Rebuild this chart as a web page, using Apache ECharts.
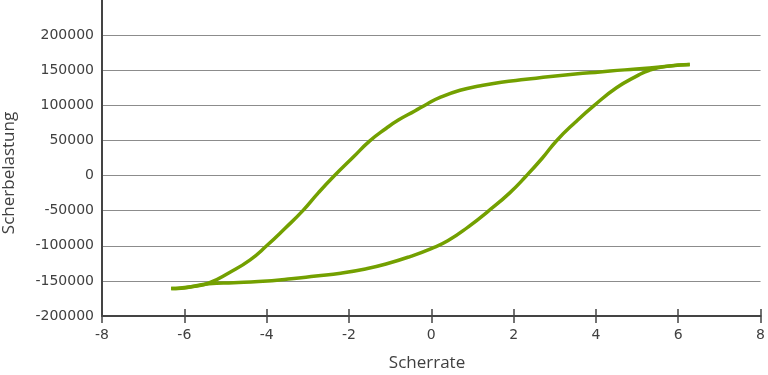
<!DOCTYPE html>
<html>
<head>
<meta charset="utf-8">
<script src="https://cdn.jsdelivr.net/npm/echarts@6/dist/echarts.min.js"></script>
<style>html,body{margin:0;padding:0;background:#fff}#c{width:768px;height:375px}</style>
</head>
<body>
<div id="c"></div>
<script>
// Lower branch (increasing shear rate)
var xLower = [-6.32, -6.0, -5.4, -4.8, -4.2, -3.4, -2.8, -2.2, -1.6, -1.1, -0.5, 0.0, 0.4, 0.9, 1.4, 1.9, 2.3, 2.7, 3.05, 3.5, 3.96, 4.5, 5.0, 5.3, 5.7, 6.28];
var yLower = [-161000, -160000, -154000, -152500, -151000, -147000, -143000, -139000, -133000, -126000, -115000, -104000, -93000, -73000, -50000, -25000, -1000, 25000, 50000, 76000, 100000, 125000, 142000, 150000, 155500, 158000];
// Upper branch (decreasing shear rate)
var xUpper = [6.28, 5.8, 5.3, 4.7, 4.1, 3.5, 2.9, 2.3, 1.7, 1.2, 0.7, 0.2, -0.1, -0.4, -0.8, -1.1, -1.5, -1.9, -2.35, -2.75, -3.12, -3.55, -4.0, -4.4, -4.9, -5.4, -5.8, -6.1, -6.32];
var yUpper = [158000, 156000, 153000, 150500, 147500, 144500, 141000, 137000, 133000, 128000, 121500, 111000, 102000, 92000, 79000, 67000, 49000, 26000, 0, -25000, -50000, -75000, -100000, -120000, -138000, -153000, -158000, -160000, -161000];
var xTitle = 'Scherrate';
var yTitle = 'Scherbelastung';

function pairs(xs, ys) { return xs.map(function (x, i) { return [x, ys[i]]; }); }

var labelStyle = { fontFamily: 'DejaVu Sans', fontSize: 14, color: '#404040' };
var green = '#73a000';
var tickStyle = { color: '#444', width: 1.5 };

var chart = echarts.init(document.getElementById('c'));
chart.setOption({
  animation: false,
  grid: { left: 102, right: 4, top: -3, bottom: 59 },
  xAxis: [{
    type: 'value', min: -8, max: 8, interval: 2,
    axisLine: { show: true, onZero: false, lineStyle: { color: '#444', width: 2 } },
    axisTick: { show: true, length: 7, lineStyle: tickStyle },
    axisLabel: Object.assign({ margin: 12 }, labelStyle),
    splitLine: { show: false }
  }, {
    type: 'value', min: -8, max: 8, interval: 2, position: 'bottom',
    axisLine: { show: false, onZero: false },
    axisTick: { show: true, inside: true, length: 7, lineStyle: tickStyle },
    axisLabel: { show: false },
    splitLine: { show: false }
  }],
  yAxis: {
    type: 'value', min: -200000, max: 250000, interval: 50000,
    axisLine: { show: true, onZero: false, lineStyle: { color: '#444', width: 2 } },
    axisTick: { show: false },
    axisLabel: Object.assign({ margin: 8, showMaxLabel: false, formatter: function (v) { return String(v); } }, labelStyle),
    splitLine: { show: true, showMaxLine: false, lineStyle: { color: '#8c8c8c', width: 1.2 } }
  },
  graphic: [
    { type: 'text', x: 427, y: 363, style: { text: xTitle, fontFamily: 'Open Sans', fontSize: 17, fill: '#404040', textAlign: 'center', textVerticalAlign: 'middle' } },
    { type: 'text', x: 9, y: 173, rotation: Math.PI / 2, style: { text: yTitle, fontFamily: 'Open Sans', fontSize: 17, fill: '#404040', textAlign: 'center', textVerticalAlign: 'middle' } }
  ],
  series: [{
    type: 'line', data: pairs(xLower, yLower), smooth: 0.5, showSymbol: false,
    lineStyle: { color: green, width: 3.5 }, itemStyle: { color: green }
  }, {
    type: 'line', data: pairs(xUpper, yUpper), smooth: 0.5, showSymbol: false,
    lineStyle: { color: green, width: 3.5 }, itemStyle: { color: green }
  }]
});
</script>
</body>
</html>
